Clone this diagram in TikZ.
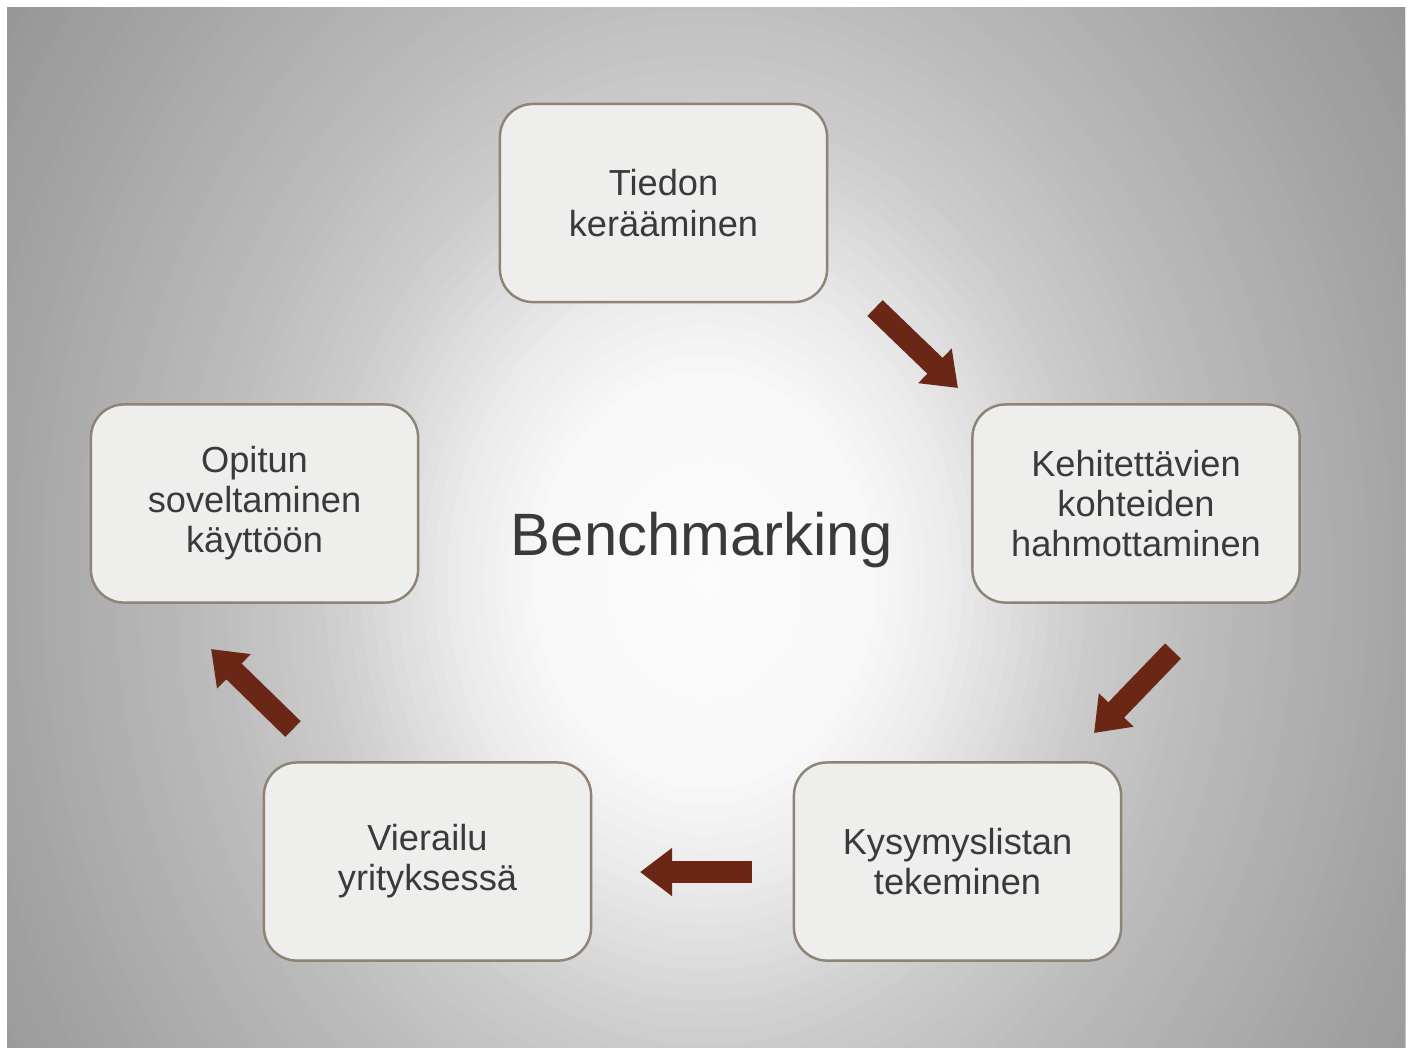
\documentclass[tikz,border=0pt]{standalone}
\usepackage{fontspec}
\setmainfont{Liberation Sans}
\usetikzlibrary{arrows.meta}

\definecolor{boxfill}{HTML}{EEEEEC}
\definecolor{boxline}{HTML}{8E8374}
\definecolor{txt}{HTML}{3A3A3A}
\definecolor{arrowbrown}{HTML}{6B2716}

\tikzset{
  stage/.style={draw=boxline, line width=0.7pt, fill=boxfill,
    rounded corners=0.33cm, minimum width=3.27cm, minimum height=1.98cm,
    inner sep=0pt, align=center, text=txt,
    font=\fontsize{10.3}{11.4}\selectfont},
  flow/.style={draw=arrowbrown, line width=0.22cm, line cap=butt,
    -{Triangle[length=0.32cm, width=0.46cm]}},
  title/.style={text=txt, font=\fontsize{17}{20}\selectfont, inner sep=0pt}
}

\begin{document}
\begin{tikzpicture}[x=0.01cm, y=-0.01cm]
  \useasboundingbox (0,0) rectangle (1413,1050);
  \fill[white] (0,0) rectangle (1413,1050);

  % background panel: grey vignette built from concentric ellipses,
  % flat and light in the middle, darkening towards the frame
  \begin{scope}
    \clip (7,7) rectangle (1405,1047);
    \fill[white!58.4!black] (7,7) rectangle (1405,1047);
    \foreach \i in {70,69,...,1} {
      \pgfmathsetmacro\s{\i/70}
      \pgfmathsetmacro\d{\s<0.2 ? 20*\s :
        (\s<0.3 ? 4+140*(\s-0.2) :
        (\s<0.45 ? 18+200*(\s-0.3) :
        (\s<0.6 ? 48+120*(\s-0.45) :
        (\s<0.81 ? 66+95.2*(\s-0.6) : 86+89.5*(\s-0.81)))))}
      \pgfmathsetmacro\g{(252-\d)/2.55}
      \fill[white!\g!black] (705,580) ellipse [x radius=860*\s, y radius=1050*\s];
    }
  \end{scope}

  % process stages
  \node[stage] (collect) at (663.5,203)  {Tiedon\\kerääminen};
  \node[stage] (outline) at (1136,503.5) {Kehitettävien\\kohteiden\\hahmottaminen};
  \node[stage] (questions) at (957.5,861.5) {Kysymyslistan\\tekeminen};
  \node[stage] (visit) at (427.5,861.5) {Vierailu\\yrityksessä};
  \node[stage] (apply) at (254.5,503.5) {Opitun\\soveltaminen\\käyttöön};

  \node[title, anchor=base] (bench) at (702,555) {Benchmarking};

  % arrow end points between the stages
  \coordinate (a1s) at (875,308);   \coordinate (a1e) at (958,388);
  \coordinate (a2s) at (1173,651);  \coordinate (a2e) at (1094,733);
  \coordinate (a3s) at (752,872);   \coordinate (a3e) at (640,872);
  \coordinate (a4s) at (293,729);   \coordinate (a4e) at (211,649);

  \draw[flow] (a1s) -- (a1e);
  \draw[flow] (a2s) -- (a2e);
  \draw[flow] (a3s) -- (a3e);
  \draw[flow] (a4s) -- (a4e);
\end{tikzpicture}
\end{document}
